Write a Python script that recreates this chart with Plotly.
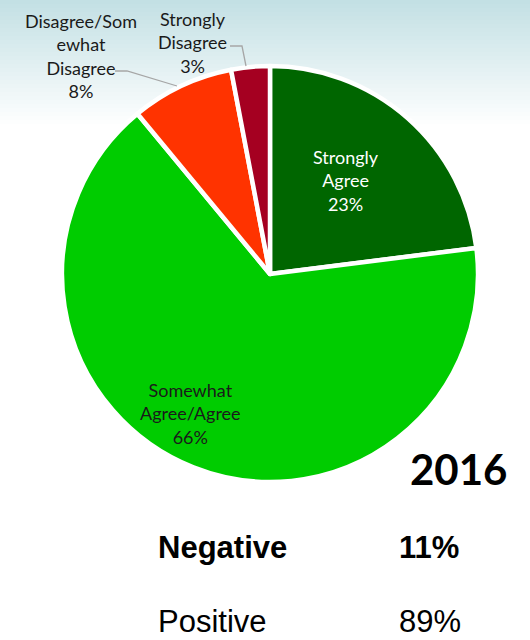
import plotly.graph_objects as go

# Survey response shares (percent)
categories = ["Strongly Agree", "Somewhat Agree/Agree", "Disagree/Somewhat Disagree", "Strongly Disagree"]
values = [23, 66, 8, 3]
colors = ["#006600", "#00CC00", "#FF3300", "#A50021"]
# wrapped label text as shown on the chart
label_lines = [
    ["Strongly", "Agree"],
    ["Somewhat", "Agree/Agree"],
    ["Disagree/Som", "ewhat", "Disagree"],
    ["Strongly", "Disagree"],
]
year = "2016"
summary_names = ["Negative", "Positive"]
summary_values = [11, 89]

W, H = 530, 640


def px(x):
    return x / W


def py(y):
    return 1 - y / H


fig = go.Figure()

# pie centred at (270, 274) with radius ~208 px
cx, cy, r = 270, 274, 208
fig.add_trace(go.Pie(
    labels=categories,
    values=values,
    sort=False,
    direction="clockwise",
    rotation=0,
    marker=dict(colors=colors, line=dict(color="white", width=4.5)),
    textinfo="none",
    hoverinfo="label+percent",
    showlegend=False,
    domain=dict(x=[px(cx - r), px(cx + r)], y=[py(cy + r), py(cy - r)]),
))

# soft blue header band fading to white
top = (195, 224, 228)
n = 32
band = 128
shapes = []
for i in range(n):
    t = i / (n - 1)
    c = tuple(int(round(top[k] + (255 - top[k]) * t)) for k in range(3))
    y0 = band * i / n
    y1 = band * (i + 1) / n + 0.6
    shapes.append(dict(type="rect", xref="paper", yref="paper", layer="below",
                       x0=0, x1=1, y0=py(y1), y1=py(y0),
                       fillcolor=f"rgb{c}", line=dict(width=0)))


def path(points):
    d = "M " + " L ".join(f"{px(x)},{py(y)}" for x, y in points)
    return dict(type="path", xref="paper", yref="paper", path=d,
                line=dict(color="#A6A6A6", width=1.3))


# leader lines for the two small slices
shapes.append(path([(115, 71), (127, 71), (177, 86)]))
shapes.append(path([(230, 46), (242, 46), (246, 66)]))

label_font = "Lato, 'Open Sans', sans-serif"
label_pos = [(346, 180), (190, 413), (81, 56), (192, 42)]
label_colors = ["white", "#1a1a1a", "#1a1a1a", "#1a1a1a"]

annotations = []
for lines, v, (x, y), col in zip(label_lines, values, label_pos, label_colors):
    annotations.append(dict(
        x=px(x), y=py(y), xref="paper", yref="paper",
        text="<br>".join(lines + [f"{v}%"]),
        showarrow=False, xanchor="center", yanchor="middle", align="center",
        font=dict(family=label_font, size=18, color=col),
    ))

annotations.append(dict(
    x=px(509), y=py(469), xref="paper", yref="paper", text=f"<b>{year}</b>",
    showarrow=False, xanchor="right", yanchor="middle",
    font=dict(family="Lato, sans-serif", size=42, color="black"),
))

sum_font = "'Liberation Sans', Arial, sans-serif"
for i, (name, v, y) in enumerate(zip(summary_names, summary_values, [547, 621])):
    bold = i == 0
    nm = f"<b>{name}</b>" if bold else name
    vv = f"<b>{v}%</b>" if bold else f"{v}%"
    annotations.append(dict(x=px(156), y=py(y), xref="paper", yref="paper", text=nm,
                            showarrow=False, xanchor="left", yanchor="middle",
                            font=dict(family=sum_font, size=31, color="black")))
    annotations.append(dict(x=px(397), y=py(y), xref="paper", yref="paper", text=vv,
                            showarrow=False, xanchor="left", yanchor="middle",
                            font=dict(family=sum_font, size=31, color="black")))

fig.update_layout(
    width=W, height=H,
    margin=dict(l=0, r=0, t=0, b=0),
    paper_bgcolor="white",
    plot_bgcolor="white",
    shapes=shapes,
    annotations=annotations,
)

fig.write_html("out.html")
